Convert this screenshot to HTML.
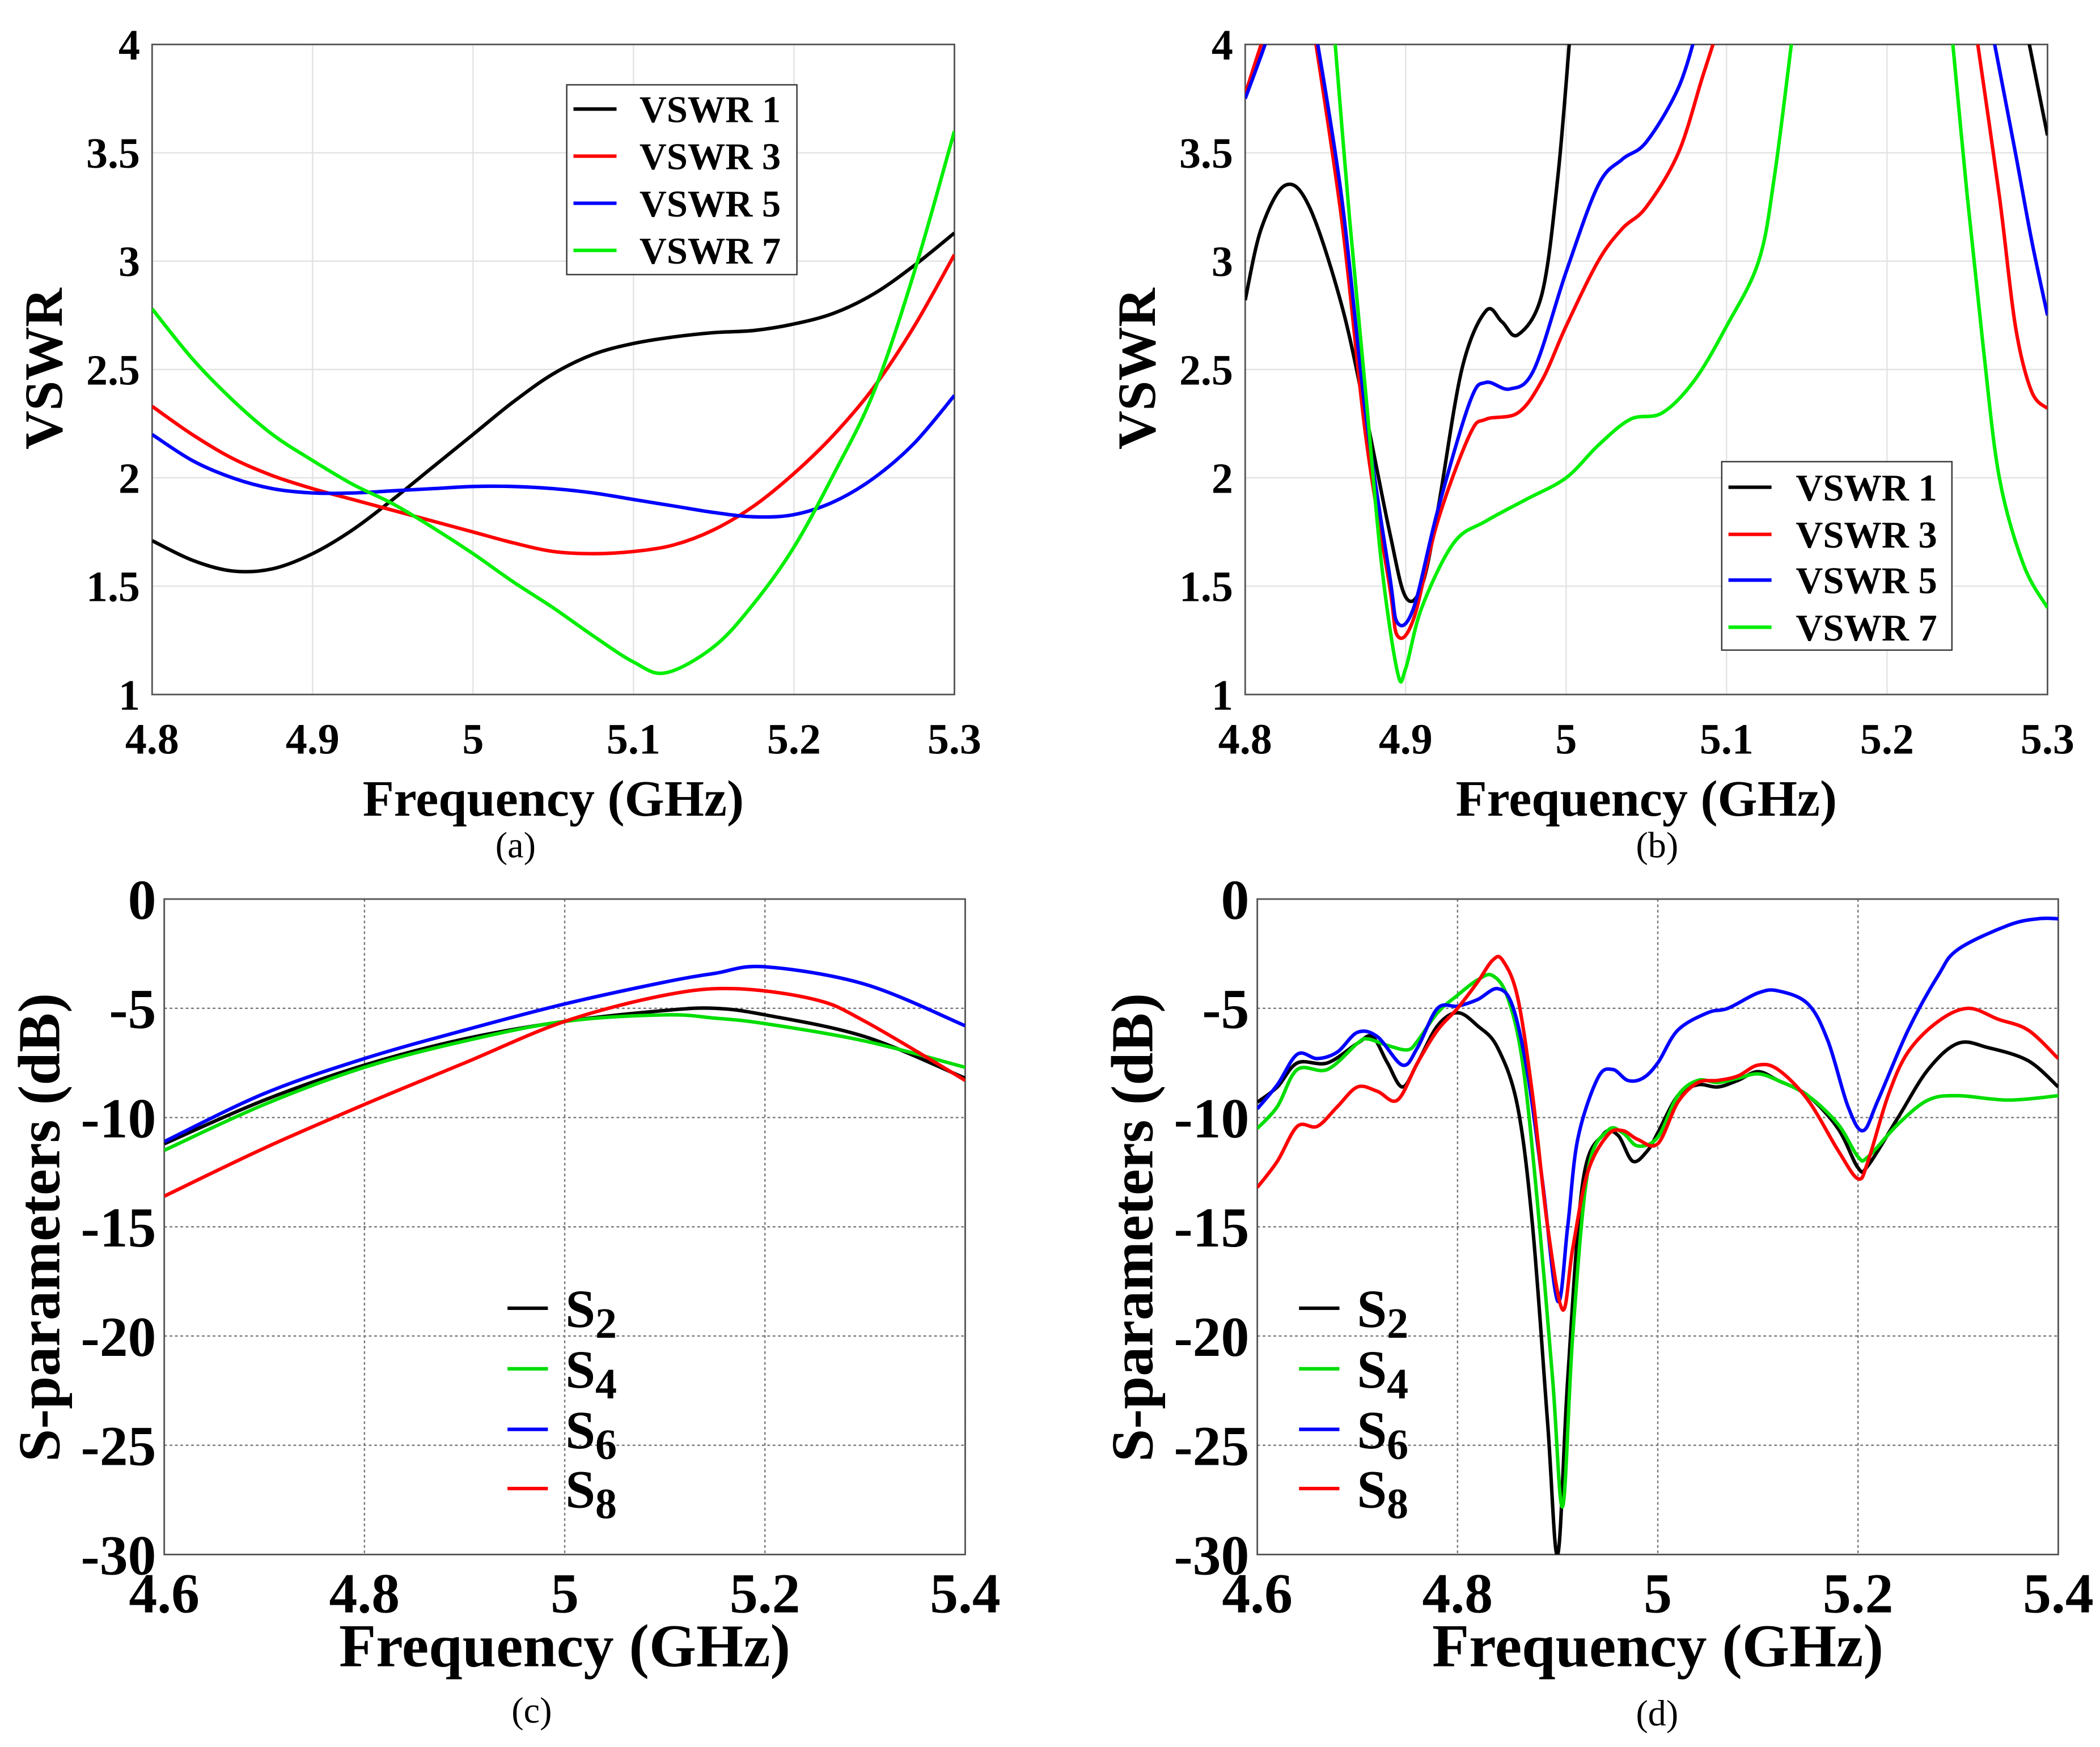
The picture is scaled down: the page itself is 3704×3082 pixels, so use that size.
<!DOCTYPE html>
<html><head><meta charset="utf-8"><style>
html,body{margin:0;padding:0;background:#fff}
svg{display:block}
text{font-family:"Liberation Serif",serif;fill:#000}
</style></head><body>
<svg id="fig" xmlns="http://www.w3.org/2000/svg" width="3704" height="3082" viewBox="0 0 1560 1298"></svg>
<script>
// ---- Panel (a) data ----
const aX = [4.8,4.825,4.85,4.875,4.9,4.925,4.95,4.975,5.0,5.025,5.05,5.075,5.1,5.125,5.15,5.175,5.2,5.225,5.25,5.275,5.3];
const aVSWR1 = [1.71,1.62,1.57,1.58,1.65,1.76,1.9,2.05,2.2,2.35,2.48,2.57,2.62,2.65,2.67,2.68,2.71,2.76,2.85,2.98,3.13];
const aVSWR3 = [2.33,2.2,2.09,2.01,1.95,1.9,1.85,1.8,1.75,1.7,1.66,1.65,1.66,1.69,1.76,1.87,2.02,2.2,2.42,2.7,3.03];
const aVSWR5 = [2.2,2.08,2.0,1.95,1.93,1.93,1.94,1.95,1.96,1.96,1.95,1.93,1.9,1.87,1.84,1.82,1.83,1.89,2.0,2.16,2.38];
const aX7 = [4.8,4.825,4.85,4.875,4.9,4.925,4.95,4.975,5.0,5.025,5.05,5.075,5.1,5.12,5.15,5.175,5.2,5.225,5.25,5.275,5.3];
const aVSWR7 = [2.78,2.55,2.36,2.2,2.08,1.97,1.88,1.77,1.65,1.52,1.4,1.27,1.15,1.1,1.22,1.42,1.68,2.02,2.4,2.95,3.6];
// ---- Panel (b) data (null = break) ----
const bX1 = [4.8,4.81,4.825,4.84,4.86,4.875,4.89,4.9,4.91,4.92,4.935,4.95,4.96,4.97,4.985,4.995,5.003,null,5.286,5.3];
const bV1 = [2.82,3.15,3.35,3.25,2.8,2.3,1.75,1.45,1.5,1.85,2.5,2.77,2.72,2.66,2.85,3.4,4.1,null,4.1,3.58];
const bX3 = [4.8,4.81,4.82,null,4.84,4.86,4.875,4.89,4.895,4.905,4.92,4.94,4.95,4.97,4.985,5.0,5.02,5.035,5.05,5.07,5.085,5.095,null,5.255,5.27,5.28,5.29,5.3];
const bV3 = [3.77,4.0,4.2,null,4.2,3.2,2.2,1.5,1.27,1.35,1.8,2.2,2.27,2.3,2.45,2.7,3.0,3.15,3.25,3.5,3.85,4.08,null,4.08,3.3,2.7,2.4,2.32];
const bX5 = [4.8,4.81,4.817,null,4.843,4.86,4.875,4.89,4.895,4.905,4.92,4.94,4.95,4.965,4.98,5.0,5.02,5.035,5.05,5.07,5.082,null,5.265,5.28,5.29,5.3];
const bV5 = [3.75,3.95,4.1,null,4.1,3.3,2.3,1.55,1.33,1.4,1.85,2.35,2.44,2.41,2.5,2.95,3.35,3.47,3.55,3.8,4.08,null,4.08,3.5,3.1,2.75];
const bX7 = [4.855,4.865,4.875,4.885,4.895,4.9,4.91,4.93,4.95,4.975,5.0,5.02,5.04,5.06,5.08,5.1,5.12,5.13,5.142,null,5.24,5.25,5.26,5.27,5.285,5.3];
const bV7 = [4.1,3.2,2.4,1.6,1.1,1.12,1.4,1.7,1.8,1.9,2.0,2.15,2.27,2.3,2.45,2.7,3.0,3.4,4.1,null,4.08,3.3,2.6,2.0,1.6,1.4];
// ---- Panel (c) data ----
const cX = [4.6,4.7,4.8,4.9,5.0,5.1,5.15,5.2,5.3,5.4];
const cS2 = [-11.2,-9.2,-7.6,-6.4,-5.6,-5.1,-5.0,-5.3,-6.3,-8.2];
const cS4 = [-11.5,-9.4,-7.7,-6.5,-5.6,-5.3,-5.45,-5.7,-6.5,-7.7];
const cS6 = [-11.1,-8.9,-7.3,-6.0,-4.8,-3.8,-3.4,-3.1,-3.9,-5.8];
const cX8 = [4.6,4.7,4.8,4.9,5.0,5.1,5.17,5.25,5.3,5.4];
const cS8 = [-13.6,-11.4,-9.4,-7.5,-5.6,-4.4,-4.1,-4.6,-5.6,-8.3];
// ---- Panel (d) data ----
const dX6 = [4.6,4.62,4.64,4.66,4.68,4.7,4.72,4.745,4.76,4.78,4.8,4.82,4.84,4.855,4.87,4.885,4.9,4.91,4.92,4.94,4.955,4.97,4.985,5.0,5.02,5.05,5.07,5.1,5.12,5.15,5.17,5.19,5.205,5.22,5.25,5.28,5.3,5.35,5.38,5.4];
const dS6 = [-9.6,-8.5,-7.1,-7.3,-7.0,-6.1,-6.3,-7.6,-6.8,-5.0,-4.9,-4.6,-4.1,-4.9,-8,-13,-18.4,-15,-11,-8.2,-7.8,-8.3,-8.2,-7.5,-6.0,-5.2,-5.0,-4.3,-4.2,-4.8,-6.5,-9.5,-10.6,-9.2,-6.0,-3.5,-2.3,-1.2,-0.9,-0.9];
const dX2 = [4.6,4.62,4.64,4.67,4.7,4.715,4.73,4.745,4.76,4.78,4.8,4.82,4.84,4.86,4.875,4.89,4.9,4.91,4.925,4.945,4.96,4.975,4.99,5.0,5.02,5.04,5.06,5.08,5.1,5.12,5.15,5.18,5.2,5.21,5.24,5.27,5.3,5.33,5.37,5.4];
const dS2 = [-9.3,-8.6,-7.5,-7.5,-6.6,-6.3,-7.5,-8.6,-7.5,-5.8,-5.2,-5.8,-6.8,-9.5,-15,-24,-30,-22,-13,-10.8,-10.8,-12.0,-11.5,-10.7,-9.0,-8.5,-8.6,-8.3,-7.9,-8.3,-9.0,-10.5,-12.3,-12.2,-10,-7.8,-6.6,-6.8,-7.4,-8.6];
const dX4 = [4.6,4.62,4.64,4.67,4.7,4.71,4.73,4.75,4.76,4.78,4.8,4.82,4.835,4.85,4.865,4.88,4.895,4.905,4.915,4.93,4.95,4.965,4.98,5.0,5.02,5.04,5.06,5.08,5.1,5.12,5.15,5.18,5.2,5.21,5.24,5.27,5.3,5.35,5.4];
const dS4 = [-10.5,-9.5,-7.8,-7.8,-6.6,-6.4,-6.7,-6.9,-6.5,-5.2,-4.4,-3.7,-3.5,-4.5,-7.5,-14,-22,-27.8,-20,-12.5,-10.6,-10.7,-11.3,-10.9,-9.0,-8.3,-8.4,-8.2,-8.0,-8.3,-9.0,-10.3,-11.8,-11.8,-10.3,-9.2,-9.0,-9.2,-9.0];
const dX8 = [4.6,4.62,4.64,4.66,4.68,4.7,4.72,4.74,4.76,4.78,4.8,4.82,4.835,4.845,4.86,4.875,4.89,4.905,4.915,4.93,4.95,4.965,4.98,5.0,5.02,5.04,5.06,5.08,5.1,5.12,5.15,5.18,5.2,5.21,5.23,5.25,5.28,5.31,5.34,5.37,5.4];
const dS8 = [-13.2,-12.0,-10.4,-10.4,-9.5,-8.6,-8.8,-9.2,-7.5,-6.0,-5.0,-3.8,-2.8,-2.8,-4.5,-9,-15,-18.8,-16,-12.5,-10.8,-10.6,-11.0,-11.2,-9.3,-8.4,-8.3,-8.1,-7.6,-7.8,-9.2,-11.5,-12.8,-12.0,-9.0,-7.0,-5.6,-5.0,-5.5,-6.0,-7.3];
// ---- Tick labels ----
const vswrTicks = [1,1.5,2,2.5,3,3.5,4];
const vswrXTicks = [4.8,4.9,5,5.1,5.2,5.3];
const sTicks = [0,-5,-10,-15,-20,-25,-30];
const sXTicks = [4.6,4.8,5,5.2,5.4];

const NS = 'http://www.w3.org/2000/svg';
const fig = document.getElementById('fig');
function mk(tag, attrs, parent){ const e=document.createElementNS(NS,tag); for(const k in attrs) e.setAttribute(k,attrs[k]); (parent||fig).appendChild(e); return e; }

function smoothPath(pts){
  if(pts.length<2) return '';
  let d='M'+pts[0][0].toFixed(2)+','+pts[0][1].toFixed(2);
  for(let i=0;i<pts.length-1;i++){
    const p0=pts[i-1]||pts[i], p1=pts[i], p2=pts[i+1], p3=pts[i+2]||pts[i+1];
    const c1=[p1[0]+(p2[0]-p0[0])/6, p1[1]+(p2[1]-p0[1])/6];
    const c2=[p2[0]-(p3[0]-p1[0])/6, p2[1]-(p3[1]-p1[1])/6];
    d+='C'+c1[0].toFixed(2)+','+c1[1].toFixed(2)+' '+c2[0].toFixed(2)+','+c2[1].toFixed(2)+' '+p2[0].toFixed(2)+','+p2[1].toFixed(2);
  }
  return d;
}

function panel(cfg){
  const g = mk('g',{});
  
  
  const {x0,x1,y0,y1,xmin,xmax,ymin,ymax} = cfg;
  const sx = v => x0 + (v-xmin)/(xmax-xmin)*(x1-x0);
  const sy = v => y1 - (v-ymin)/(ymax-ymin)*(y1-y0);
  const clipId = cfg.name+'-clip';
  const cp = mk('clipPath',{id:clipId},g);
  mk('rect',{x:x0,y:y0,width:x1-x0,height:y1-y0},cp);
  cfg.xticks.forEach(t=>{
    const l = mk('line',{x1:sx(t),x2:sx(t),y1:y0,y2:y1,stroke:cfg.gridColor,'stroke-width':1,'stroke-dasharray':cfg.dash||'none'},g);
    
    
    const tx = mk('text',{x:sx(t),y:cfg.xlabY,'text-anchor':'middle','font-size':cfg.tickFs,'font-weight':'bold'},g);
    tx.textContent = String(t);
    
    
  });
  cfg.yticks.forEach(t=>{
    const l = mk('line',{x1:x0,x2:x1,y1:sy(t),y2:sy(t),stroke:cfg.gridColor,'stroke-width':1,'stroke-dasharray':cfg.dash||'none'},g);
    
    
    const tx = mk('text',{x:x0-cfg.ytickOff,y:sy(t)+cfg.tickFs*0.35,'text-anchor':'end','font-size':cfg.tickFs,'font-weight':'bold'},g);
    tx.textContent = String(t);
    
    
  });
  const frame = mk('rect',{x:x0,y:y0,width:x1-x0,height:y1-y0,fill:'none',stroke:'#555','stroke-width':1.2},g);
  
  
  cfg.series.forEach(s=>{
    let segs=[[]];
    for(let i=0;i<s.x.length;i++){
      if(s.x[i]===null){ segs.push([]); continue; }
      segs[segs.length-1].push([sx(s.x[i]), sy(s.y[i])]);
    }
    segs.forEach(seg=>{
      const p = mk('path',{d:smoothPath(seg),fill:'none',stroke:s.color,'stroke-width':2.6,'clip-path':'url(#'+clipId+')','stroke-linejoin':'round'},g);
      
      
    });
  });
  const L = cfg.legend;
  if(L.box){
    const b = mk('rect',{x:L.box[0],y:L.box[1],width:L.box[2],height:L.box[3],fill:'#fff',stroke:'#333','stroke-width':1},g);
    
    
  }
  cfg.series.forEach((s,i)=>{
    const yy = L.ys[i];
    const ln = mk('line',{x1:L.lx0,x2:L.lx1,y1:yy,y2:yy,stroke:s.color,'stroke-width':2.6},g);
    
    
    const t = mk('text',{x:L.tx,y:yy+L.fs*0.35,'font-size':L.fs,'font-weight':'bold'},g);
    
    
    if(s.sub){
      t.textContent = 'S';
      const ts = mk('tspan',{'font-size':L.fs*0.8,dy:L.fs*0.2},t);
      ts.textContent = s.sub;
    } else t.textContent = s.label;
  });
  const xt = mk('text',{x:(x0+x1)/2,y:cfg.xtitleY,'text-anchor':'middle','font-size':cfg.titleFs,'font-weight':'bold'},g);
  xt.textContent='Frequency (GHz)';
  
  
  const yt = mk('text',{x:0,y:0,'text-anchor':'middle','font-size':cfg.ytitleFs||cfg.titleFs,'font-weight':'bold',transform:'translate('+cfg.ytitleX+','+cfg.ytitleY+') rotate(-90)'},g);
  yt.textContent=cfg.ytitle;
  
  
  const cap = mk('text',{x:cfg.capX,y:cfg.capY,'text-anchor':'middle','font-size':27},g);
  cap.textContent=cfg.cap;
  
  
}

const G='#00ee00';
panel({name:'panel-a',x0:113,x1:709,y0:33,y1:516,xmin:4.8,xmax:5.3,ymin:1,ymax:4,xticks:vswrXTicks,yticks:vswrTicks,
  gridColor:'#e2e2e2',tickFs:32,ytickOff:9,xlabY:560,titleFs:38,xtitleY:606,ytitleX:46,ytitleY:274,ytitleFs:40,ytitle:'VSWR',capX:383,capY:637,cap:'(a)',
  series:[{name:'vswr-1',x:aX,y:aVSWR1,color:'#000',label:'VSWR 1'},{name:'vswr-3',x:aX,y:aVSWR3,color:'#ff0000',label:'VSWR 3'},
          {name:'vswr-5',x:aX,y:aVSWR5,color:'#0000ff',label:'VSWR 5'},{name:'vswr-7',x:aX7,y:aVSWR7,color:G,label:'VSWR 7'}],
  legend:{box:[421,63,171,141],ys:[81,116,151,186],lx0:426,lx1:458,tx:475,fs:28}});
panel({name:'panel-b',x0:925,x1:1521,y0:33,y1:516,xmin:4.8,xmax:5.3,ymin:1,ymax:4,xticks:vswrXTicks,yticks:vswrTicks,
  gridColor:'#e2e2e2',tickFs:32,ytickOff:9,xlabY:560,titleFs:38,xtitleY:606,ytitleX:858,ytitleY:274,ytitleFs:40,ytitle:'VSWR',capX:1231,capY:637,cap:'(b)',
  series:[{name:'vswr-1',x:bX1,y:bV1,color:'#000',label:'VSWR 1'},{name:'vswr-3',x:bX3,y:bV3,color:'#ff0000',label:'VSWR 3'},
          {name:'vswr-5',x:bX5,y:bV5,color:'#0000ff',label:'VSWR 5'},{name:'vswr-7',x:bX7,y:bV7,color:G,label:'VSWR 7'}],
  legend:{box:[1279,343,171,140],ys:[362,397,431,466],lx0:1284,lx1:1316,tx:1334,fs:28}});
const G2='#00dd00';
panel({name:'panel-c',x0:122,x1:717,y0:668,y1:1155,xmin:4.6,xmax:5.4,ymin:-30,ymax:0,xticks:sXTicks,yticks:sTicks,dash:'2,2',
  gridColor:'#777',tickFs:42,ytickOff:6,xlabY:1198,titleFs:45,xtitleY:1238,ytitleX:44,ytitleY:912,ytitleFs:44,ytitle:'S-parameters (dB)',capX:395,capY:1280,cap:'(c)',
  series:[{name:'s2',x:cX,y:cS2,color:'#000',sub:'2'},{name:'s4',x:cX,y:cS4,color:G2,sub:'4'},
          {name:'s6',x:cX,y:cS6,color:'#0000ff',sub:'6'},{name:'s8',x:cX8,y:cS8,color:'#ff0000',sub:'8'}],
  legend:{ys:[972,1017,1062,1106],lx0:377,lx1:407,tx:420,fs:40}});
panel({name:'panel-d',x0:934,x1:1529,y0:668,y1:1155,xmin:4.6,xmax:5.4,ymin:-30,ymax:0,xticks:sXTicks,yticks:sTicks,dash:'2,2',
  gridColor:'#777',tickFs:42,ytickOff:6,xlabY:1198,titleFs:45,xtitleY:1238,ytitleX:856,ytitleY:912,ytitleFs:44,ytitle:'S-parameters (dB)',capX:1231,capY:1282,cap:'(d)',
  series:[{name:'s2',x:dX2,y:dS2,color:'#000',sub:'2'},{name:'s4',x:dX4,y:dS4,color:G2,sub:'4'},
          {name:'s6',x:dX6,y:dS6,color:'#0000ff',sub:'6'},{name:'s8',x:dX8,y:dS8,color:'#ff0000',sub:'8'}],
  legend:{ys:[972,1017,1062,1106],lx0:965,lx1:995,tx:1008,fs:40}});
</script>
</body></html>
